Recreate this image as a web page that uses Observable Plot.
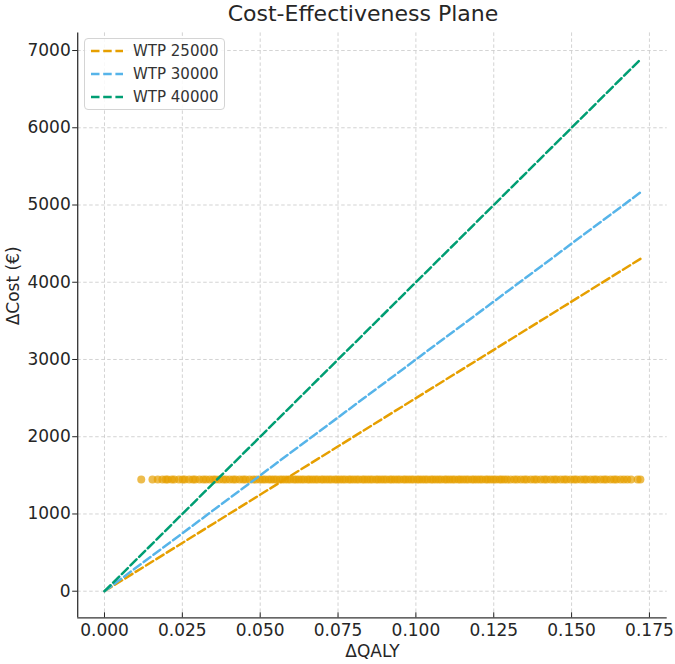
<!DOCTYPE html>
<html>
<head>
<meta charset="utf-8">
<script src="https://cdn.jsdelivr.net/npm/d3@7"></script>
<script src="https://cdn.jsdelivr.net/npm/@observablehq/plot@0.6"></script>
<style>
  body { margin: 0; background: #fff; }
  #wrap { position: relative; width: 675px; height: 664px; font-family: "DejaVu Sans", sans-serif; }
  #title { position: absolute; left: 68px; top: 0; width: 590px; height: 28px; line-height: 27px; text-align: center; font-size: 22px; color: #262626; }
  #chart { position: absolute; left: 0; top: 28px; }
  #legend { position: absolute; left: 84px; top: 38px; width: 141px; height: 72px; border: 1px solid #d4d4d4; border-radius: 4px; background: rgba(255,255,255,0.85); box-sizing: border-box; }
  .row { position: absolute; left: 0; height: 20px; width: 139px; }
  .row svg { position: absolute; left: 5px; top: 0; }
  .row span { position: absolute; left: 48px; top: 0; line-height: 20px; font-size: 15px; color: #333; white-space: nowrap; }
</style>
</head>
<body>
<div id="wrap">
  <div id="title">Cost-Effectiveness Plane</div>
  <div id="chart"></div>
  <div id="legend"></div>
</div>
<script>
// ---- data ----
const wtpValues = [25000, 30000, 40000];
const wtpLabels = ["WTP 25000", "WTP 30000", "WTP 40000"];
const wtpColors = ["#E69F00", "#56B4E9", "#009E73"];
const lineQaly = [0, 0.1721];

const psaCost = 1445;
const psaQaly = [
  0.0118, 0.0154, 0.0171, 0.0186, 0.0197,
  0.0203, 0.0216, 0.0224, 0.0239, 0.0251, 0.0258, 0.0272, 0.0284, 0.0291, 0.0305, 0.0317, 0.0326, 0.0338, 0.0349,
  0.0357, 0.0369, 0.0381, 0.0390, 0.0402, 0.0413, 0.0421, 0.0434, 0.0445, 0.0453, 0.0466, 0.0478, 0.0487, 0.0499,
  0.0508, 0.0516, 0.0527, 0.0535, 0.0544, 0.0552, 0.0563, 0.0571, 0.0580, 0.0589, 0.0597, 0.0608, 0.0615, 0.0624,
  0.0633, 0.0641, 0.0652, 0.0659, 0.0668, 0.0677, 0.0685, 0.0696, 0.0703, 0.0712, 0.0721, 0.0729, 0.0740, 0.0747,
  0.0756, 0.0765, 0.0773, 0.0784, 0.0791, 0.0800, 0.0809, 0.0817, 0.0828, 0.0835, 0.0844, 0.0853, 0.0861, 0.0872,
  0.0879, 0.0888, 0.0897, 0.0905, 0.0916, 0.0923, 0.0932, 0.0941, 0.0949, 0.0960, 0.0967, 0.0976, 0.0985, 0.0993,
  0.1004, 0.1011, 0.1020, 0.1029, 0.1037, 0.1048, 0.1055, 0.1064, 0.1073, 0.1081, 0.1092, 0.1099, 0.1108, 0.1117,
  0.1125, 0.1136, 0.1143, 0.1152, 0.1161, 0.1169, 0.1180, 0.1187, 0.1196, 0.1205, 0.1213, 0.1224, 0.1231, 0.1240,
  0.1249, 0.1257, 0.1268, 0.1275, 0.1284, 0.1293, 0.1304, 0.1316, 0.1325, 0.1337, 0.1348, 0.1356, 0.1369, 0.1380,
  0.1388, 0.1401, 0.1412, 0.1420, 0.1433, 0.1444, 0.1452, 0.1465, 0.1476, 0.1484, 0.1497, 0.1508, 0.1516, 0.1529,
  0.1540, 0.1548, 0.1561, 0.1572, 0.1580, 0.1593, 0.1604, 0.1612, 0.1625, 0.1636, 0.1644, 0.1657, 0.1668, 0.1679,
  0.1691, 0.1712, 0.1721
];

const xTicks = [0, 0.025, 0.05, 0.075, 0.1, 0.125, 0.15, 0.175];
const yTicks = [0, 1000, 2000, 3000, 4000, 5000, 6000, 7000];
const xLabel = "ΔQALY";
const yLabel = "ΔCost (€)";

// ---- tables ----
const psa = psaQaly.map(q => ({qaly: q, cost: psaCost}));
const lines = [];
wtpValues.forEach((w, i) => lineQaly.forEach(q => lines.push({qaly: q, cost: w * q, label: wtpLabels[i]})));

const xMax = d3.max(lineQaly), yMax = d3.max(lines, d => d.cost);
const xDom = [0 - 0.05 * xMax, xMax * 1.05];
const yDom = [0 - 0.05 * yMax, yMax * 1.05];

const ink = "#262626";
const gridStyle = {stroke: "#c8c8c8", strokeOpacity: 1, strokeWidth: 0.8, strokeDasharray: "3.5,2.5"};

const chart = Plot.plot({
  width: 675,
  height: 636,
  marginLeft: 77.2,
  marginRight: 8.3,
  marginTop: 4.4,
  marginBottom: 46.7,
  style: {fontFamily: "DejaVu Sans, sans-serif", background: "#fff", color: ink},
  x: {domain: xDom},
  y: {domain: yDom},
  color: {domain: wtpLabels, range: wtpColors},
  marks: [
    Plot.gridX(xTicks, gridStyle),
    Plot.gridY(yTicks, gridStyle),
    Plot.dot(psa, {x: "qaly", y: "cost", r: 4, fill: "#E69F00", fillOpacity: 0.7, stroke: null}),
    Plot.line(lines, {x: "qaly", y: "cost", z: "label", stroke: "label", strokeWidth: 2.5, strokeDasharray: "8.5,3.7"}),
    Plot.ruleX([xDom[0]], {stroke: "#333", strokeWidth: 1.3}),
    Plot.ruleY([yDom[0]], {stroke: "#333", strokeWidth: 1.3}),
    Plot.axisX({ticks: xTicks, tickFormat: d3.format(".3f"), tickSize: -5, tickPadding: 11, fontSize: 17, label: null, color: ink}),
    Plot.axisY({ticks: yTicks, tickFormat: d3.format("d"), tickSize: 5, tickPadding: 2, fontSize: 17, label: null, color: ink}),
    Plot.text([xLabel], {frameAnchor: "bottom", lineAnchor: "middle", dy: 34, fontSize: 17, fill: ink}),
    Plot.text([yLabel], {frameAnchor: "left", lineAnchor: "middle", rotate: -90, dx: -64, fontSize: 17, fill: ink})
  ]
});
document.getElementById("chart").appendChild(chart);

// legend
const legend = document.getElementById("legend");
wtpLabels.forEach((lab, i) => {
  const row = document.createElement("div");
  row.className = "row";
  row.style.top = (1.5 + i * 23) + "px";
  row.innerHTML = `<svg width="34" height="20"><line x1="1" x2="33" y1="10" y2="10" stroke="${wtpColors[i]}" stroke-width="2.5" stroke-dasharray="8.5,3.7"/></svg><span>${lab}</span>`;
  legend.appendChild(row);
});
</script>
</body>
</html>
